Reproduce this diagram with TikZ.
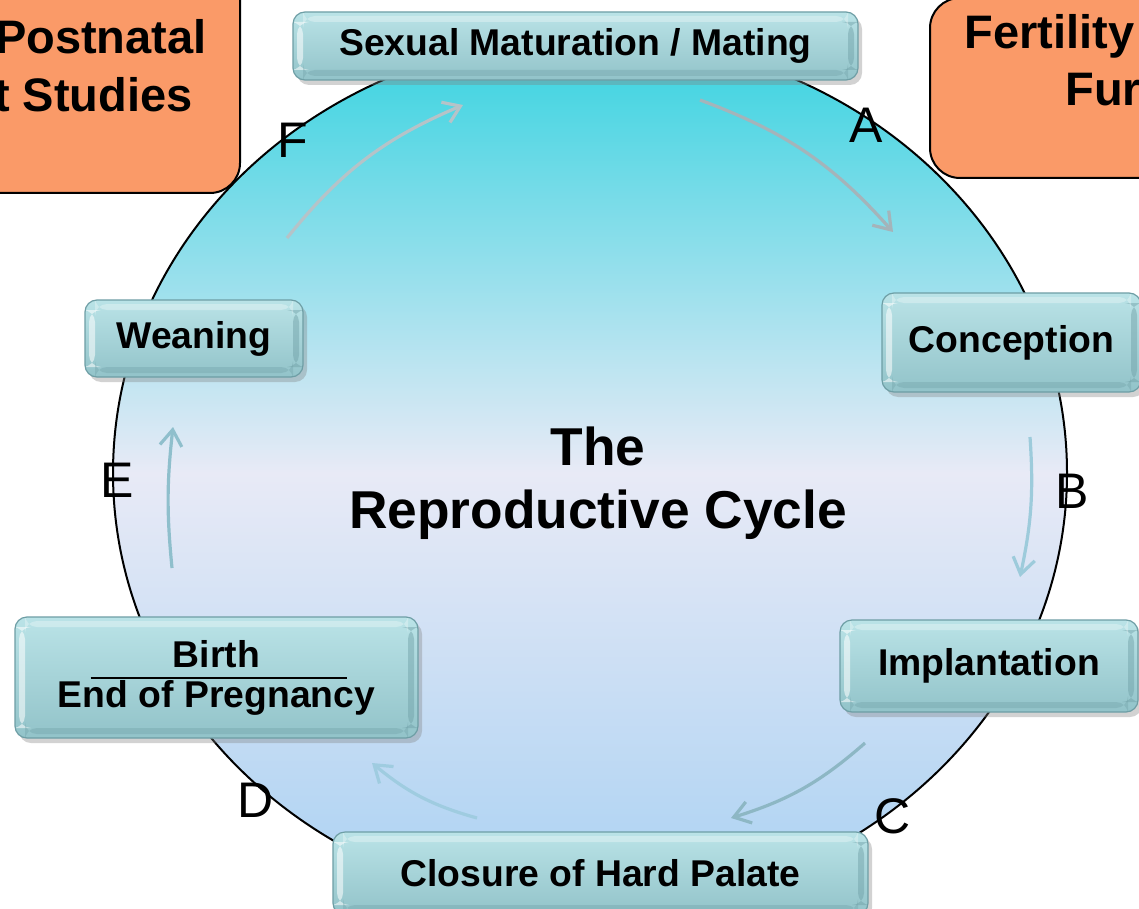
\documentclass[tikz,border=0pt]{standalone}
\usepackage{fontspec}
\setmainfont{Liberation Sans}
\usetikzlibrary{shadows,arrows.meta,calc}
\definecolor{orangebox}{HTML}{FA9A68}
\definecolor{ellTop}{HTML}{36D3E0}
\definecolor{ellMid}{HTML}{E8EAF6}
\definecolor{ellBot}{HTML}{A9D1F2}
\definecolor{boxTop}{HTML}{BAE3E7}
\definecolor{boxBot}{HTML}{92C3C9}
\definecolor{boxEdge}{HTML}{6E9EA5}
\definecolor{arrA}{HTML}{A4B4BA}
\definecolor{arrB}{HTML}{9DCBDB}
\definecolor{arrC}{HTML}{8DB7C4}
\definecolor{arrD}{HTML}{9FCCE0}
\definecolor{arrE}{HTML}{8FBFCC}
\definecolor{arrF}{HTML}{B5C3C8}
\begin{document}
\begin{tikzpicture}[x=0.5pt,y=-0.5pt,
  stagebox/.style={rounded corners=6pt, draw=boxEdge, line width=0.6pt,
    top color=boxTop, bottom color=boxBot, align=center, inner sep=0pt,
    font=\fontsize{18.65}{20}\selectfont\bfseries,
    drop shadow={shadow xshift=2pt,shadow yshift=-2.5pt,opacity=0.35},
    path picture={
      \fill[white,opacity=0.55] ($(path picture bounding box.north west)+(2pt,-5pt)$) rectangle ($(path picture bounding box.south west)+(5pt,5pt)$);
      \fill[boxEdge,opacity=0.45] ($(path picture bounding box.north east)+(-5pt,-5pt)$) rectangle ($(path picture bounding box.south east)+(-2pt,5pt)$);
      \fill[boxEdge,opacity=0.35] ($(path picture bounding box.south west)+(5pt,2pt)$) rectangle ($(path picture bounding box.south east)+(-5pt,5pt)$);
      \fill[white,opacity=0.3] ($(path picture bounding box.north west)+(5pt,-2pt)$) rectangle ($(path picture bounding box.north east)+(-5pt,-5pt)$);
    }},
  orangepanel/.style={fill=orangebox, draw=black, line width=1pt, rounded corners=15pt},
  orangetext/.style={font=\fontsize{23.5}{28}\selectfont\bfseries, inner sep=0pt},
  letter/.style={font=\fontsize{25}{30}\selectfont, inner sep=0pt},
  cyc/.style={line width=1.6pt, -{Straight Barb[length=8pt,width=11pt]}}]
\useasboundingbox (0,0) rectangle (1139,909);
\clip (0,0) rectangle (1139,909);
\fill[white] (0,0) rectangle (1139,909);

% big ellipse
\draw[line width=1pt, top color=ellTop, bottom color=ellBot, middle color=ellMid]
  (590,473) ellipse [x radius=238.5pt, y radius=218pt];

% orange side panels
\path[orangepanel] (-40,-40) rectangle (240,193);
\path[orangepanel] (930,-2) rectangle (1180,178);
\node[orangetext, anchor=base east] (post1) at (207,54) {Postnatal};
\node[orangetext, anchor=base east] (post2) at (193,112) {t Studies};
\node[orangetext, anchor=base west] (fert1) at (964,49) {Fertility};
\node[orangetext, anchor=base west] (fert2) at (1065,106) {Fur};

% stages
\node[stagebox, minimum width=282.5pt, minimum height=34pt] (mating) at (575.5,46) {Sexual Maturation / Mating};
\node[stagebox, minimum width=129.5pt, minimum height=49.5pt] (conception) at (1011.5,342.5) {Conception};
\node[stagebox, minimum width=149pt, minimum height=46pt] (implant) at (989,666) {Implantation};
\node[stagebox, minimum width=267.5pt, minimum height=41.5pt] (palate) at (600.5,873.5) {Closure of Hard Palate};
\node[stagebox, minimum width=201.5pt, minimum height=60.5pt] (birth) at (216.5,677.5) {Birth\\End of Pregnancy};
\draw[line width=1pt] ($(birth.center)+(-63pt,0pt)$) -- ($(birth.center)+(65pt,0pt)$);
\node[stagebox, minimum width=109pt, minimum height=38.5pt] (weaning) at (194,338.5) {Weaning};

% title
\node[font=\fontsize{26.65}{31.5}\selectfont\bfseries, align=center] (title) at (598,483) {The\\Reproductive Cycle};

% arrows
\coordinate (aS) at (700,100);  \coordinate (aE) at (893,232);
\coordinate (bS) at (1030,437); \coordinate (bE) at (1020,577);
\coordinate (cS) at (865,743);  \coordinate (cE) at (731,818);
\coordinate (dS) at (477,818);  \coordinate (dE) at (372,763);
\coordinate (eS) at (172,568);  \coordinate (eE) at (173,427);
\coordinate (fS) at (287,238);  \coordinate (fE) at (463,105);
\draw[cyc, arrA] (aS) to[bend left=14] (aE);
\draw[cyc, arrB] (bS) to[bend left=8] (bE);
\draw[cyc, arrC] (cS) to[bend left=12] (cE);
\draw[cyc, arrD] (dS) to[bend left=12] (dE);
\draw[cyc, arrE] (eS) to[bend left=6] (eE);
\draw[cyc, arrF] (fS) to[bend left=14] (fE);

% letters
\node[letter] (lA) at (866,125) {A};
\node[letter] (lB) at (1072,491) {B};
\node[letter] (lC) at (893,816) {C};
\node[letter] (lD) at (256,800) {D};
\node[letter] (lE) at (117,480) {E};
\node[letter] (lF) at (293,140) {F};
\end{tikzpicture}
\end{document}
